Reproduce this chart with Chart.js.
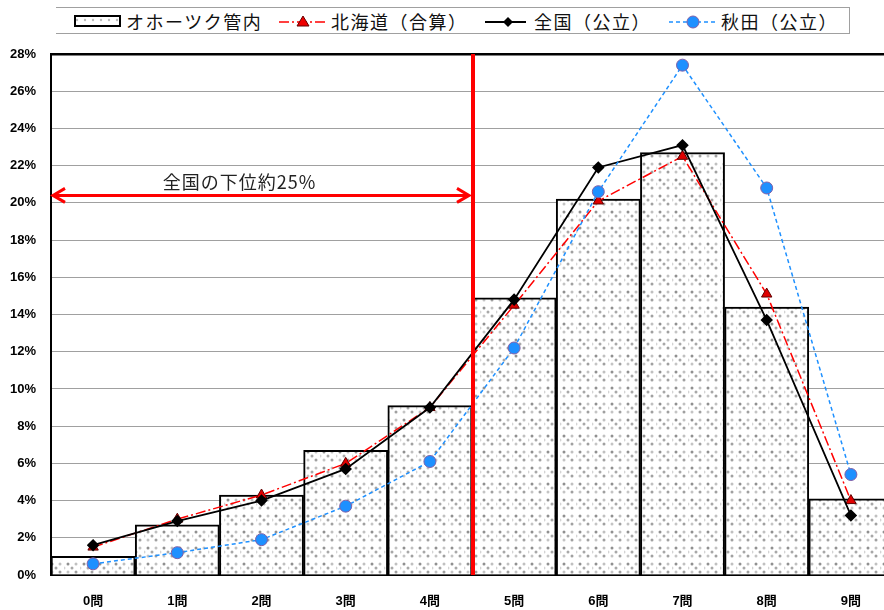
<!DOCTYPE html>
<html>
<head>
<meta charset="utf-8">
<script src="https://cdn.jsdelivr.net/npm/chart.js@4"></script>
<style>
    body { margin: 0; background: #fff; }
    #wrap { position: relative; width: 884px; height: 610px; overflow: hidden; }
    #chart { position: absolute; left: 0; top: 0; }
    #legend {
        position: absolute; left: 56px; top: 7px; width: 793px; height: 25px;
        border: 1.5px solid #a0a0a0; border-left: none; background: #fff;
        font-family: "Noto Sans CJK JP", sans-serif; font-size: 18px; color: #111;
    }
    #legend span { position: absolute; top: 0px; letter-spacing: 1.5px; white-space: nowrap; }
    #legend svg { position: absolute; top: 0; }
</style>
</head>
<body>
<div id="wrap">
    <canvas id="chart" width="900" height="610"></canvas>
    <div id="legend"></div>
</div>
<script>
// Data
const categories = ["0問", "1問", "2問", "3問", "4問", "5問", "6問", "7問", "8問", "9問"];
const okhotsk = [1.0, 2.7, 4.3, 6.7, 9.1, 14.9, 20.2, 22.7, 14.4, 4.1];
const hokkaido = [1.5, 3.0, 4.3, 6.0, 9.0, 14.5, 20.1, 22.5, 15.1, 4.0];
const zenkoku = [1.6, 2.9, 4.0, 5.7, 9.0, 14.8, 21.9, 23.1, 13.7, 3.2];
const akita = [0.6, 1.2, 1.9, 3.7, 6.1, 12.2, 20.6, 27.4, 20.8, 5.4];
const seriesNames = ["オホーツク管内", "北海道（合算）", "全国（公立）", "秋田（公立）"];

// halftone dot pattern for the bars
function makePattern() {
    const c = document.createElement("canvas");
    c.width = 16; c.height = 16;
    const g = c.getContext("2d");
    g.fillStyle = "#fff";
    g.fillRect(0, 0, 16, 16);
    const dots = [[4, 4, "#909090"], [12, 4, "#c0c0c0"], [0, 8, "#d4d4d4"], [8, 8, "#a8a8a8"], [4, 12, "#c4c4c4"], [12, 12, "#a0a0a0"]];
    dots.forEach(([x, y, col]) => {
        g.fillStyle = col;
        g.beginPath();
        g.arc(x, y, 1.5, 0, Math.PI * 2);
        g.fill();
    });
    return g.createPattern(c, "repeat");
}

// red divider line + arrow and label
const markerPlugin = {
    id: "marker",
    afterDatasetsDraw(chart) {
        const ctx = chart.ctx;
        const x = chart.scales.x;
        const y = chart.scales.y;
        const lineX = x.getPixelForValue(4.5) + 1;
        ctx.save();
        ctx.strokeStyle = "#ff0000";
        ctx.lineWidth = 4;
        ctx.beginPath();
        ctx.moveTo(lineX, y.getPixelForValue(28));
        ctx.lineTo(lineX, y.getPixelForValue(0));
        ctx.stroke();

        // double arrow
        const ay = y.getPixelForValue(20.4);
        const x0 = chart.chartArea.left + 2;
        const x1 = lineX - 4;
        ctx.lineWidth = 3;
        ctx.beginPath();
        ctx.moveTo(x0, ay);
        ctx.lineTo(x1, ay);
        ctx.moveTo(x0 + 12, ay - 7);
        ctx.lineTo(x0, ay);
        ctx.lineTo(x0 + 12, ay + 7);
        ctx.moveTo(x1 - 12, ay - 7);
        ctx.lineTo(x1, ay);
        ctx.lineTo(x1 - 12, ay + 7);
        ctx.stroke();

        ctx.fillStyle = "#222";
        ctx.font = "18px 'Noto Sans CJK JP'";
        ctx.letterSpacing = "1px";
        ctx.textAlign = "center";
        ctx.textBaseline = "middle";
        ctx.fillText("全国の下位約25%", x.getPixelForValue(1.74), y.getPixelForValue(21.1));
        ctx.restore();
    }
};

const pattern = makePattern();

new Chart(document.getElementById("chart"), {
    data: {
        labels: categories,
        datasets: [
            {
                type: "line",
                label: seriesNames[3],
                data: akita,
                borderColor: "#1e90ff",
                borderWidth: 1.5,
                borderDash: [4, 3],
                pointStyle: "circle",
                pointRadius: 6,
                pointBackgroundColor: "#1e90ff",
                pointBorderColor: "#8060a8",
                pointBorderWidth: 1,
                tension: 0,
                order: 1
            },
            {
                type: "line",
                label: seriesNames[2],
                data: zenkoku,
                borderColor: "#000",
                borderWidth: 1.8,
                pointStyle: "rectRot",
                pointRadius: 5,
                pointBackgroundColor: "#000",
                pointBorderColor: "#000",
                tension: 0,
                order: 2
            },
            {
                type: "line",
                label: seriesNames[1],
                data: hokkaido,
                borderColor: "#ff0000",
                borderWidth: 1.5,
                borderDash: [10, 3, 2, 3],
                pointStyle: "triangle",
                pointRadius: 6,
                pointBackgroundColor: "#e00000",
                pointBorderColor: "#600000",
                pointBorderWidth: 1,
                tension: 0,
                order: 3
            },
            {
                type: "bar",
                label: seriesNames[0],
                data: okhotsk,
                backgroundColor: pattern,
                borderColor: "#000",
                borderWidth: 2,
                categoryPercentage: 1,
                barPercentage: 1,
                order: 10
            }
        ]
    },
    options: {
        responsive: false,
        animation: false,
        layout: { padding: { left: 0, right: 5, top: 54, bottom: 0 } },
        plugins: {
            legend: { display: false },
            tooltip: { enabled: false }
        },
        scales: {
            x: {
                grid: { display: false },
                border: { color: "#000", width: 2 },
                ticks: {
                    color: "#000",
                    padding: 11,
                    font: { family: "'Liberation Sans', 'Noto Sans CJK JP'", size: 13, weight: "bold" }
                },
                afterFit(s) { s.height = 35; }
            },
            y: {
                min: 0,
                max: 28,
                ticks: {
                    stepSize: 2,
                    color: "#000",
                    padding: 15,
                    font: { family: "'Liberation Sans'", size: 13, weight: "bold" },
                    callback: v => v + "%"
                },
                grid: {
                    drawTicks: false,
                    color: c => c.tick && c.tick.value === 28 ? "#000" : "#a0a0a0",
                    lineWidth: c => c.tick && c.tick.value === 28 ? 2.5 : 1
                },
                border: { color: "#000", width: 2 },
                afterFit(s) { s.width = 51; }
            }
        }
    },
    plugins: [markerPlugin]
});

// Legend (HTML)
const legend = document.getElementById("legend");
const dot = '<pattern id="p" width="8" height="8" patternUnits="userSpaceOnUse"><rect width="8" height="8" fill="#fff"/><circle cx="3" cy="4" r="1.2" fill="#bbb"/></pattern>';
legend.innerHTML =
    '<svg style="left:18px" width="48" height="26"><defs>' + dot + '</defs><rect x="1" y="8" width="45" height="10" fill="url(#p)" stroke="#000" stroke-width="2"/></svg>' +
    '<span style="left:70px">' + seriesNames[0] + '</span>' +
    '<svg style="left:222px" width="50" height="26"><line x1="1" y1="14" x2="48" y2="14" stroke="#f00" stroke-width="1.5" stroke-dasharray="10,3,2,3"/><polygon points="25,8 31,18 19,18" fill="#e00" stroke="#600"/></svg>' +
    '<span style="left:275px">' + seriesNames[1] + '</span>' +
    '<svg style="left:428px" width="44" height="26"><line x1="1" y1="14" x2="42" y2="14" stroke="#000" stroke-width="1.8"/><polygon points="24,9 29,14 24,19 19,14" fill="#000"/></svg>' +
    '<span style="left:478px">' + seriesNames[2] + '</span>' +
    '<svg style="left:612px" width="50" height="26"><line x1="1" y1="14" x2="48" y2="14" stroke="#1e90ff" stroke-width="1.5" stroke-dasharray="4,3"/><circle cx="25" cy="14" r="6" fill="#1e90ff" stroke="#8060a8"/></svg>' +
    '<span style="left:665px">' + seriesNames[3] + '</span>';
</script>
</body>
</html>
